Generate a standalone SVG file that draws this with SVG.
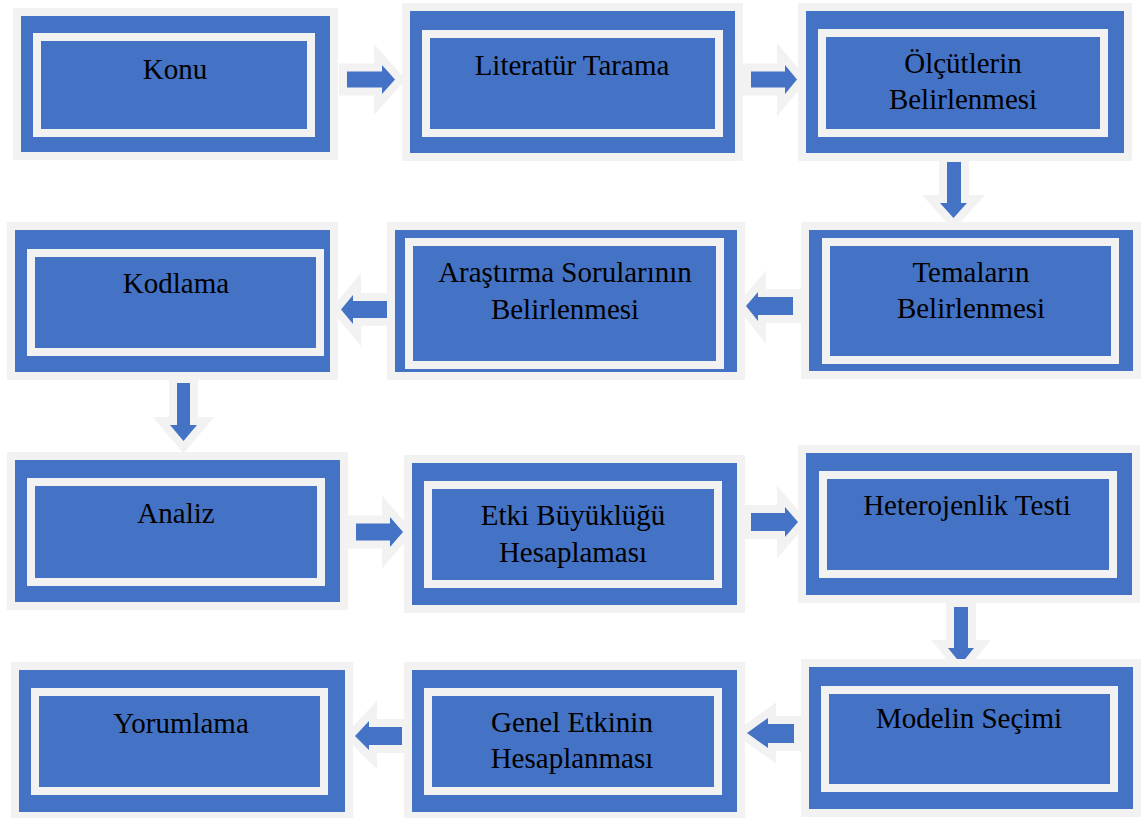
<svg xmlns="http://www.w3.org/2000/svg" width="1141" height="818" viewBox="0 0 1141 818">
<style>
.o{fill:#4472C4;stroke:#F2F2F2;stroke-width:8}
.i{fill:#4472C4;stroke:#F2F2F2;stroke-width:8}
.a{fill:#4472C4;stroke:#F2F2F2;stroke-width:16;stroke-linejoin:miter;stroke-miterlimit:10;paint-order:stroke}
.t{font-family:"Liberation Serif","Times New Roman",serif;font-size:29px;fill:#000;text-anchor:middle}
</style>
<rect width="1141" height="818" fill="#fff"/>
<g id="connectors">
<polygon class="a" points="347,71.5 382,71.5 382,65 395,79.5 382,94 382,87.5 347,87.5"/>
<polygon class="a" points="751,71.5 785,71.5 785,65 797,79.5 785,94 785,87.5 751,87.5"/>
<polygon class="a" points="947,162 961,162 961,203 967,203 953.5,218 940,203 947,203"/>
<polygon class="a" points="793,297 758,297 758,292 746,306 758,321 758,315 793,315"/>
<polygon class="a" points="387,301 353,301 353,295 341,309.5 353,324 353,318 387,318"/>
<polygon class="a" points="177,383 190,383 190,425 197,425 183.5,441 170,425 177,425"/>
<polygon class="a" points="356,523.5 390,523.5 390,517 403,532 390,547 390,540.5 356,540.5"/>
<polygon class="a" points="751,513 785,513 785,507 798,522 785,537 785,531 751,531"/>
<polygon class="a" points="954,607 968,607 968,648 974,648 961,664 948,648 954,648"/>
<polygon class="a" points="794,724 768,724 768,718 747,733 768,748 768,743 794,743"/>
<polygon class="a" points="402,727 369,727 369,721 355,736 369,750 369,745 402,745"/>
</g>
<g id="n1"><rect class="o" x="17" y="12" width="317" height="144"/><rect class="i" x="37" y="37" width="274" height="96"/><text class="t" x="175" y="79">Konu</text></g>
<g id="n2"><rect class="o" x="406" y="7" width="333" height="150"/><rect class="i" x="426" y="34" width="293" height="99"/><text class="t" x="572" y="75">Literatür Tarama</text></g>
<g id="n3"><rect class="o" x="802" y="7" width="326" height="150"/><rect class="i" x="822" y="33" width="282" height="100"/><text class="t" x="963" y="73">Ölçütlerin</text><text class="t" x="963" y="109">Belirlenmesi</text></g>
<g id="n4"><rect class="o" x="805" y="226" width="332" height="149"/><rect class="i" x="826" y="242" width="289" height="118"/><text class="t" x="971" y="282">Temaların</text><text class="t" x="971" y="318">Belirlenmesi</text></g>
<g id="n5"><rect class="o" x="391" y="226" width="350" height="150"/><rect class="i" x="409" y="242" width="311" height="123"/><text class="t" x="565" y="282">Araştırma Sorularının</text><text class="t" x="565" y="319">Belirlenmesi</text></g>
<g id="n6"><rect class="o" x="11" y="226" width="323" height="150"/><rect class="i" x="31" y="253" width="289" height="99"/><text class="t" x="176" y="293">Kodlama</text></g>
<g id="n7"><rect class="o" x="11" y="456" width="333" height="150"/><rect class="i" x="31" y="482" width="290" height="100"/><text class="t" x="176" y="523">Analiz</text></g>
<g id="n8"><rect class="o" x="408" y="459" width="333" height="150"/><rect class="i" x="428" y="485" width="290" height="99"/><text class="t" x="573" y="525">Etki Büyüklüğü</text><text class="t" x="573" y="562">Hesaplaması</text></g>
<g id="n9"><rect class="o" x="802" y="449" width="334" height="150"/><rect class="i" x="823" y="475" width="290" height="99"/><text class="t" x="967" y="515">Heterojenlik Testi</text></g>
<g id="n10"><rect class="o" x="805" y="663" width="332" height="150"/><rect class="i" x="825" y="690" width="289" height="98"/><text class="t" x="969" y="728">Modelin Seçimi</text></g>
<g id="n11"><rect class="o" x="408" y="666" width="333" height="150"/><rect class="i" x="428" y="692" width="290" height="99"/><text class="t" x="572" y="732">Genel Etkinin</text><text class="t" x="572" y="768">Hesaplanması</text></g>
<g id="n12"><rect class="o" x="15" y="666" width="334" height="150"/><rect class="i" x="35" y="692" width="289" height="99"/><text class="t" x="181" y="733">Yorumlama</text></g>
</svg>
